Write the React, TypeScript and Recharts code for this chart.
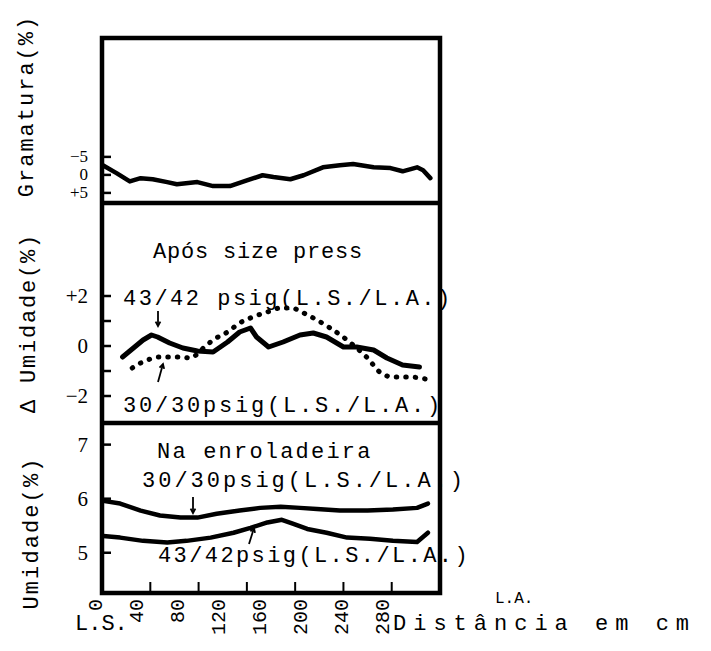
import { Line, LineChart, XAxis, YAxis } from "recharts";

// distance across the machine (cm), L.S. = 0
const distTicks = [0, 40, 80, 120, 160, 200, 240, 280];
const innerTicks = [40, 80, 120, 160, 200, 240];

// Gramatura deviation (%)
const gramDist = [1, 12, 23, 32, 42, 54, 62, 79, 92, 106, 120, 133, 142, 156, 167, 183, 197, 208, 225, 239, 249, 261, 266, 272];
const gramDev = [-2.6, -0.5, 1.8, 0.9, 1.2, 2.0, 2.6, 2.0, 3.1, 3.1, 1.5, 0.1, 0.6, 1.2, 0.1, -2.1, -2.7, -3.0, -2.1, -1.9, -1.0, -2.1, -1.3, 0.9];

// delta umidade after size press
const delta43Dist = [17, 26, 34, 41, 46, 56, 67, 79, 92, 104, 114, 123, 128, 138, 150, 164, 175, 186, 200, 211, 225, 236, 249, 263];
const delta43Vals = [-0.44, -0.08, 0.24, 0.44, 0.36, 0.12, -0.08, -0.2, -0.24, 0.16, 0.56, 0.72, 0.36, -0.04, 0.16, 0.44, 0.52, 0.36, -0.04, -0.04, -0.16, -0.48, -0.76, -0.84];
const delta30Dist = [25, 32, 40, 48, 55, 65, 73, 84, 92, 104, 114, 125, 137, 148, 157, 167, 178, 189, 203, 211, 220, 230, 241, 255, 268];
const delta30Vals = [-0.88, -0.68, -0.52, -0.44, -0.44, -0.44, -0.48, -0.08, 0.24, 0.56, 0.92, 1.16, 1.36, 1.52, 1.52, 1.32, 1.04, 0.72, 0.24, -0.08, -0.48, -1.04, -1.24, -1.24, -1.32];

// umidade at the reel
const umid30Dist = [1, 15, 32, 48, 65, 79, 95, 114, 131, 148, 164, 178, 197, 220, 241, 261, 270];
const umid30Vals = [5.96, 5.91, 5.78, 5.69, 5.65, 5.65, 5.72, 5.78, 5.83, 5.85, 5.83, 5.81, 5.78, 5.78, 5.8, 5.83, 5.91];
const umid43Dist = [1, 15, 34, 54, 70, 90, 109, 123, 137, 149, 158, 170, 186, 203, 222, 241, 261, 270];
const umid43Vals = [5.31, 5.28, 5.22, 5.19, 5.22, 5.28, 5.37, 5.46, 5.56, 5.61, 5.54, 5.44, 5.37, 5.28, 5.26, 5.22, 5.2, 5.37];

const toPoints = (xs: number[], ys: number[]) => xs.map((x, i) => ({ x, y: ys[i] }));

const W = 711;
const PLOT_LEFT = 96;
const PLOT_RIGHT = 440;
const FRAME_BOTTOM = 593;
const Y_AXIS_W = 40;
const MARGIN = { top: 0, right: W - PLOT_RIGHT, bottom: 0, left: PLOT_LEFT - Y_AXIS_W };
const X_DOMAIN: [number, number] = [-5, 280];
const UMID_DOMAIN: [number, number] = [4.237, 7.4];
const MONO = "'Liberation Mono', 'DejaVu Sans Mono', monospace";
const SERIF = "'Liberation Serif', 'DejaVu Serif', serif";

// same mapping as the charts' x axis, used only for the frame's tick marks
const frameX = (v: number) =>
  PLOT_LEFT + ((v - X_DOMAIN[0]) / (X_DOMAIN[1] - X_DOMAIN[0])) * (PLOT_RIGHT - PLOT_LEFT);

function makeYTick(fmt: (v: number) => string, size = 21) {
  return (props: any) => {
    const { x, y, payload } = props;
    const label = fmt(payload.value);
    return (
      <g>
        <line x1={x + 6} x2={x + 15} y1={y} y2={y} stroke="#000" strokeWidth={2.5} />
        {label && (
          <text x={x - 8} y={y} textAnchor="end" dominantBaseline="central" fontFamily={SERIF} fontSize={size} fill="#000">
            {label}
          </text>
        )}
      </g>
    );
  };
}

const signed = (v: number) => (v > 0 ? `+${v}` : v < 0 ? `\u2212${-v}` : "0");

function DistLabel(props: any) {
  const { x, y, payload } = props;
  const yy = y + 5;
  return (
    <text
      x={x}
      y={yy}
      transform={`rotate(-90 ${x} ${yy})`}
      textAnchor="end"
      dominantBaseline="central"
      fontFamily={MONO}
      fontSize={20}
      fill="#000"
    >
      {payload.value}
    </text>
  );
}

function Arrow({ x1, y1, x2, y2 }: { x1: number; y1: number; x2: number; y2: number }) {
  const a = Math.atan2(y2 - y1, x2 - x1);
  const h = 5;
  const p1 = [x2 - h * Math.cos(a - 0.5), y2 - h * Math.sin(a - 0.5)];
  const p2 = [x2 - h * Math.cos(a + 0.5), y2 - h * Math.sin(a + 0.5)];
  return (
    <g stroke="#000" strokeWidth={1.8} fill="none">
      <line x1={x1} y1={y1} x2={x2} y2={y2} />
      <path d={`M${p1[0]} ${p1[1]} L${x2} ${y2} L${p2[0]} ${p2[1]}`} />
    </g>
  );
}

const txt = (ls: number) => ({ fontFamily: MONO, fontSize: 22, letterSpacing: ls, fill: "#000" });
const visible = { overflow: "visible" as const };

const umid30 = toPoints(umid30Dist, umid30Vals);
const umid43 = toPoints(umid43Dist, umid43Vals);

export default function App() {
  return (
    <div style={{ position: "absolute", left: 0, top: 0, width: W, height: 651, background: "#fff" }}>
      {/* Gramatura */}
      <div style={{ position: "absolute", left: 0, top: 38 }}>
        <LineChart width={W} height={165} margin={MARGIN} style={visible}>
          <XAxis dataKey="x" type="number" domain={X_DOMAIN} allowDataOverflow hide />
          <YAxis
            type="number"
            domain={[-38, 7.8]}
            reversed
            allowDataOverflow
            ticks={[-5, 0, 5]}
            interval={0}
            width={Y_AXIS_W}
            axisLine={false}
            tickLine={false}
            tickSize={0}
            tickMargin={0}
            tick={makeYTick(signed, 17)}
          />
          <Line
            data={toPoints(gramDist, gramDev)}
            dataKey="y"
            type="linear"
            stroke="#000"
            strokeWidth={4.5}
            strokeLinejoin="round"
            strokeLinecap="round"
            dot={false}
            isAnimationActive={false}
          />
        </LineChart>
      </div>

      {/* Delta umidade */}
      <div style={{ position: "absolute", left: 0, top: 203 }}>
        <LineChart width={W} height={220} margin={MARGIN} style={visible}>
          <XAxis dataKey="x" type="number" domain={X_DOMAIN} allowDataOverflow hide />
          <YAxis
            type="number"
            domain={[-3.08, 5.72]}
            allowDataOverflow
            ticks={[-2, -1, 0, 1, 2]}
            interval={0}
            width={Y_AXIS_W}
            axisLine={false}
            tickLine={false}
            tickSize={0}
            tickMargin={0}
            tick={makeYTick((v) => (Math.abs(v) === 1 ? "" : signed(v)))}
          />
          <Line
            data={toPoints(delta30Dist, delta30Vals)}
            dataKey="y"
            type="monotone"
            stroke="#000"
            strokeWidth={5}
            strokeDasharray="0.5 9"
            strokeLinecap="round"
            dot={false}
            isAnimationActive={false}
          />
          <Line
            data={toPoints(delta43Dist, delta43Vals)}
            dataKey="y"
            type="linear"
            stroke="#000"
            strokeWidth={5}
            strokeLinejoin="round"
            strokeLinecap="round"
            dot={false}
            isAnimationActive={false}
          />
        </LineChart>
      </div>

      {/* Umidade */}
      <div style={{ position: "absolute", left: 0, top: 423 }}>
        <LineChart width={W} height={216} data={umid30} margin={MARGIN} style={visible}>
          <XAxis
            xAxisId="lbl"
            dataKey="x"
            type="number"
            domain={[0, 335.6]}
            allowDataOverflow
            ticks={distTicks}
            interval={0}
            height={45}
            axisLine={false}
            tickLine={false}
            tickSize={0}
            tickMargin={0}
            tick={DistLabel}
          />
          <XAxis dataKey="x" type="number" domain={X_DOMAIN} allowDataOverflow hide height={0} />
          <YAxis
            type="number"
            domain={UMID_DOMAIN}
            allowDataOverflow
            ticks={[5, 6, 7]}
            interval={0}
            width={Y_AXIS_W}
            axisLine={false}
            tickLine={false}
            tickSize={0}
            tickMargin={0}
            tick={makeYTick((v) => String(v))}
          />
          <Line
            data={umid30}
            dataKey="y"
            type="linear"
            stroke="#000"
            strokeWidth={4.5}
            strokeLinejoin="round"
            strokeLinecap="round"
            dot={false}
            isAnimationActive={false}
          />
          <Line
            data={umid43}
            dataKey="y"
            type="linear"
            stroke="#000"
            strokeWidth={4.5}
            strokeLinejoin="round"
            strokeLinecap="round"
            dot={false}
            isAnimationActive={false}
          />
        </LineChart>
      </div>

      {/* frame, titles and notes */}
      <svg width={W} height={651} style={{ position: "absolute", left: 0, top: 0, pointerEvents: "none" }}>
        <rect x={102} y={38} width={338} height={555} fill="none" stroke="#000" strokeWidth={4.5} />
        <line x1={100} x2={442} y1={203} y2={203} stroke="#000" strokeWidth={4.5} />
        <line x1={100} x2={442} y1={423} y2={423} stroke="#000" strokeWidth={4.5} />
        {innerTicks.map((t) => (
          <line
            key={t}
            x1={frameX(t)}
            x2={frameX(t)}
            y1={FRAME_BOTTOM - 11}
            y2={FRAME_BOTTOM}
            stroke="#000"
            strokeWidth={2}
          />
        ))}

        <text transform="translate(27 106) rotate(-90)" textAnchor="middle" dominantBaseline="central" style={txt(2)}>
          Gramatura(%)
        </text>
        <text transform="translate(29 323) rotate(-90)" textAnchor="middle" dominantBaseline="central" style={txt(1.8)}>
          Δ Umidade(%)
        </text>
        <text transform="translate(32 533) rotate(-90)" textAnchor="middle" dominantBaseline="central" style={txt(2.1)}>
          Umidade(%)
        </text>

        <text x={153} y={258} style={txt(0.8)}>Após size press</text>
        <text x={123} y={305} style={txt(2.5)}>43/42 psig(L.S./L.A.)</text>
        <text x={123} y={412} style={txt(2.8)}>30/30psig(L.S./L.A.)</text>
        <Arrow x1={158} y1={311} x2={158} y2={326} />
        <Arrow x1={158} y1={382} x2={163} y2={364} />

        <text x={157} y={458} style={txt(2.2)}>Na enroladeira</text>
        <text x={142} y={487} style={txt(3)}>30/30psig(L.S./L.A.)</text>
        <text x={158} y={562} style={txt(2.4)}>43/42psig(L.S./L.A.)</text>
        <Arrow x1={193} y1={497} x2={193} y2={513} />
        <Arrow x1={249} y1={544} x2={254} y2={528} />

        <text x={75} y={630} style={txt(0)}>L.S.</text>
        <text x={495} y={603} style={{ fontFamily: MONO, fontSize: 16, fill: "#000" }}>L.A.</text>
        <text x={393} y={630} style={txt(7)}>Distância em cm</text>
      </svg>
    </div>
  );
}
